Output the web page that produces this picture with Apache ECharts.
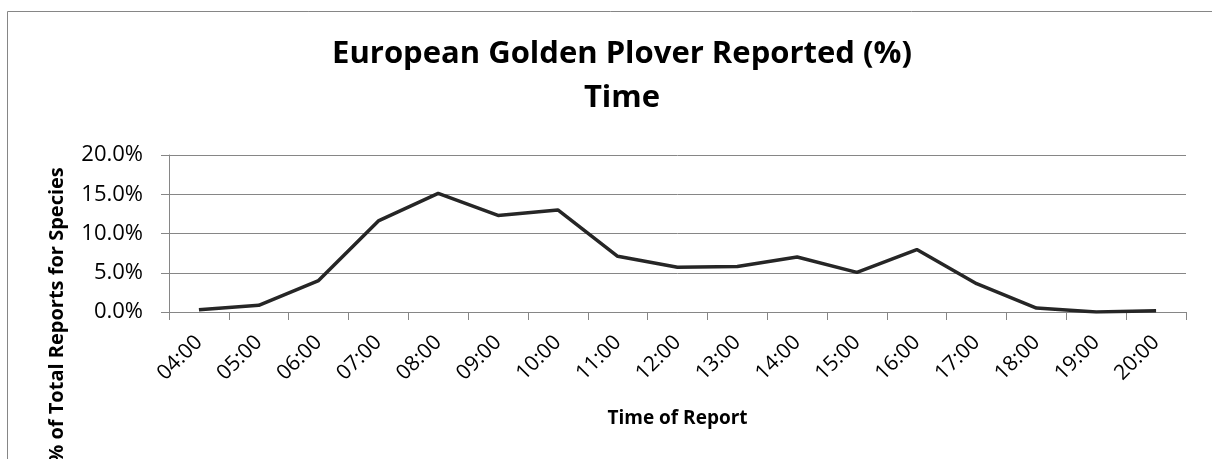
<!DOCTYPE html>
<html>
<head>
<meta charset="utf-8">
<script src="https://cdn.jsdelivr.net/npm/echarts@6/dist/echarts.min.js"></script>
<style>
  html, body { margin: 0; padding: 0; background: #fff; }
  #chart { width: 1212px; height: 459px; }
</style>
</head>
<body>
<div id="chart"></div>
<script>
// 数据
var hours = ['04:00', '05:00', '06:00', '07:00', '08:00', '09:00', '10:00', '11:00', '12:00',
             '13:00', '14:00', '15:00', '16:00', '17:00', '18:00', '19:00', '20:00'];
var reported = [0.3, 0.85, 4.0, 11.6, 15.1, 12.3, 13.0, 7.1, 5.7, 5.8, 7.0, 5.05, 7.95, 3.6, 0.5, 0.0, 0.15];

var font = '"Open Sans", "Liberation Sans", sans-serif';
var grey = '#868686';

var chart = echarts.init(document.getElementById('chart'));
var option = {
    backgroundColor: '#fff',
    animation: false,
    title: {
        text: 'European Golden Plover Reported (%)\nTime',
        left: 617, top: 27, textAlign: 'center',
        textStyle: { fontFamily: font, fontSize: 31, fontWeight: 'bold', color: '#000', lineHeight: 44 }
    },
    grid: { left: 169, right: 26, top: 155, bottom: 147 },
    xAxis: {
        type: 'category',
        data: hours,
        boundaryGap: true,
        axisLine: { lineStyle: { color: grey, width: 1 } },
        axisTick: { show: true, alignWithLabel: false, length: 8, lineStyle: { color: grey } },
        axisLabel: { rotate: 45, interval: 0, margin: 27, fontFamily: font, fontSize: 21, color: '#000' },
        name: 'Time of Report',
        nameLocation: 'middle',
        nameGap: 97,
        nameTextStyle: { fontFamily: font, fontSize: 19, fontWeight: 'bold', color: '#000' }
    },
    yAxis: {
        type: 'value',
        min: 0, max: 20, interval: 5,
        axisLine: { show: true, lineStyle: { color: grey } },
        axisTick: { show: true, length: 8, lineStyle: { color: grey } },
        splitLine: { lineStyle: { color: grey, width: 1 } },
        axisLabel: {
            margin: 26,
            fontFamily: font, fontSize: 22, color: '#000',
            formatter: function (v) { return v.toFixed(1) + '%'; }
        }
    },
    graphic: [
        {
            type: 'rect', silent: true, z: -1,
            shape: { x: 7.5, y: 11.5, width: 1300, height: 600 },
            style: { fill: 'none', stroke: grey, lineWidth: 1 }
        },
        {
            type: 'text', x: 57, y: 315, rotation: Math.PI / 2,
            style: {
                text: '% of Total Reports for Species',
                fontFamily: font, fontSize: 20, fontWeight: 'bold', fill: '#000',
                align: 'center', verticalAlign: 'middle'
            }
        }
    ],
    series: [{
        name: 'Reported',
        type: 'line',
        data: reported,
        symbol: 'none',
        lineStyle: { color: '#262626', width: 3.5 }
    }]
};
chart.setOption(option);
</script>
</body>
</html>
